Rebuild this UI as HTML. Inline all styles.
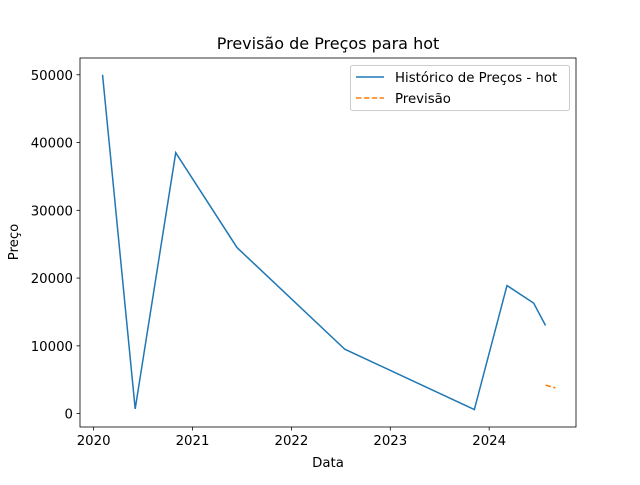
<!DOCTYPE html>
<html><head><meta charset="utf-8"><style>
body{margin:0;background:#fff}
text{font-family:"DejaVu Sans","Liberation Sans",sans-serif;fill:#000}
</style></head><body>
<svg id="chart" width="640" height="480">
<rect width="640" height="480" fill="#fff"/>
<text x="328" y="49" font-size="16" text-anchor="middle">Previsão de Preços para hot</text>
<g id="plot"></g>
<rect x="80" y="58" width="496" height="369" fill="none" stroke="#000" stroke-width="0.8"/>
<text x="328" y="467" font-size="13.3" text-anchor="middle">Data</text>
<text x="18" y="242" font-size="13.3" text-anchor="middle" transform="rotate(-90 18 242)">Preço</text>
<g>
<rect x="350.5" y="65.5" width="219" height="45" rx="2" fill="#fff" fill-opacity="0.8" stroke="#ccc"/>
<line x1="356" y1="77" x2="384" y2="77" stroke="#1f77b4" stroke-width="1.5"/>
<text x="395" y="82" font-size="13.3">Histórico de Preços - hot</text>
<line x1="356" y1="98" x2="384" y2="98" stroke="#ff7f0e" stroke-width="1.5" stroke-dasharray="5.5,2.4"/>
<text x="395" y="103" font-size="13.3">Previsão</text>
</g>
</svg>
<script>
const histX=[2020.09,2020.42,2020.83,2021.45,2022.54,2023.85,2024.18,2024.45,2024.57];
const histY=[50000,700,38500,24500,9500,600,18900,16300,13000];
const fcX=[2024.57,2024.67];
const fcY=[4200,3800];
const xTicks=[2020,2021,2022,2023,2024];
const yTicks=[0,10000,20000,30000,40000,50000];
const X0=80,X1=576,Y0=427,Y1=58;
const xmin=2019.862,xmax=2024.878,ymin=-1975,ymax=52475;
const sx=v=>X0+(v-xmin)/(xmax-xmin)*(X1-X0);
const sy=v=>Y0-(v-ymin)/(ymax-ymin)*(Y0-Y1);
const svg=document.getElementById('chart');const NS='http://www.w3.org/2000/svg';
const plot=document.getElementById('plot');
function mk(t,a,p){const e=document.createElementNS(NS,t);for(const k in a)e.setAttribute(k,a[k]);(p||svg).appendChild(e);return e;}
const h=mk('polyline',{points:histX.map((x,i)=>sx(x)+','+sy(histY[i])).join(' '),fill:'none',stroke:'#1f77b4','stroke-width':1.5},plot);


const f=mk('polyline',{points:fcX.map((x,i)=>sx(x)+','+sy(fcY[i])).join(' '),fill:'none',stroke:'#ff7f0e','stroke-width':1.5,'stroke-dasharray':'5.5,2.4'},plot);


xTicks.forEach(t=>{const x=sx(t);
const l=mk('line',{x1:x,x2:x,y1:427,y2:430.5,stroke:'#000','stroke-width':0.8});


const tx=mk('text',{x:x,y:445,'font-size':13.3,'text-anchor':'middle'});tx.textContent=t;

});
yTicks.forEach(t=>{const y=sy(t);
const l=mk('line',{x1:76.5,x2:80,y1:y,y2:y,stroke:'#000','stroke-width':0.8});


const tx=mk('text',{x:73,y:y+5,'font-size':13.3,'text-anchor':'end'});tx.textContent=t;

});
</script>
</body></html>
